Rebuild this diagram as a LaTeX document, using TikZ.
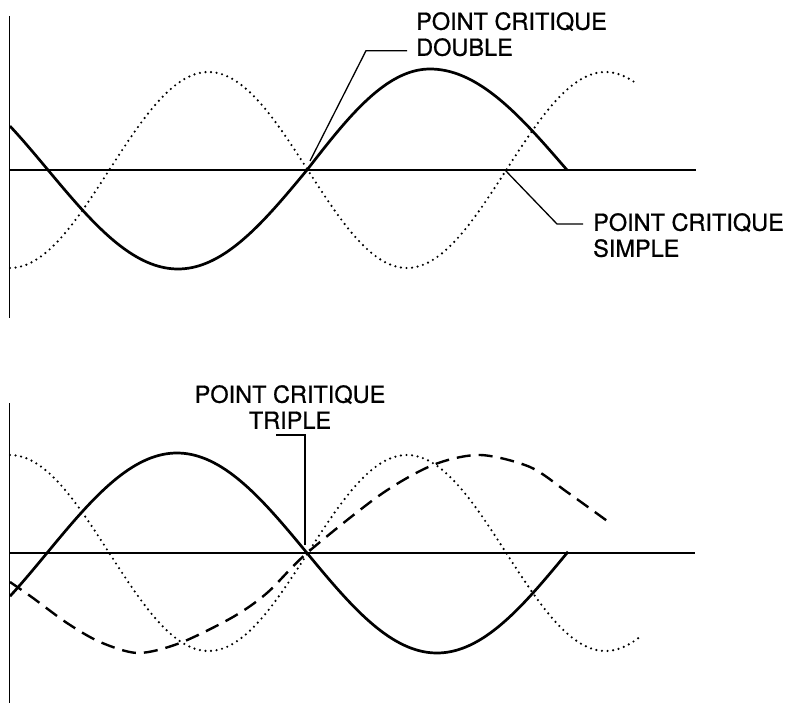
\documentclass[tikz,border=0pt]{standalone}
\usepackage{fontspec}
\setmainfont{TeX Gyre Heros}
\newfontfamily\lblfont{TeX Gyre Heros}[FakeBold=0.8]
\begin{document}
\begin{tikzpicture}[x=1pt,y=-1pt,
  axis/.style={line width=1.4pt},
  solidc/.style={line width=2.7pt, line join=round},
  dotc/.style={line width=2.4pt, line cap=round, dash pattern=on 0pt off 5.6pt},
  dashc/.style={line width=2.4pt, dash pattern=on 14pt off 8pt},
  leader/.style={line width=1.3pt},
  lbl/.style={font=\lblfont\fontsize{23.5}{26}\selectfont, inner sep=0pt}]
\useasboundingbox (0,0) rectangle (790,703);
% ---------- top panel ----------
\draw[axis] (9.5,16) -- (9.5,318);
\draw[axis] (9.5,170) -- (696,170);
\draw[dotc] plot[domain=10:637, samples=140, smooth] (\x, {170+98*cos(0.9068*(\x-10))});
\draw[solidc] plot[domain=10:178, samples=50, smooth] (\x, {170+99*sin(0.6923*(\x-48))})
  -- plot[domain=178:307, samples=40, smooth] (\x, {170+99*sin(90+0.6977*(\x-178))})
  -- plot[domain=307:430, samples=40, smooth] (\x, {170+101*sin(180+0.7317*(\x-307))})
  -- plot[domain=430:567, samples=40, smooth] (\x, {170+101*sin(270+0.6569*(\x-430))});
\node[lbl, anchor=north west, align=left] (lD) at (416,12) {POINT CRITIQUE\\DOUBLE};
\node[lbl, anchor=north west, align=left] (lS) at (593,213) {POINT CRITIQUE\\SIMPLE};
\coordinate (cD) at (310,161);
\coordinate (kD) at (366,50.7);
\coordinate (eD) at (407,50.7);
\draw[leader] (cD) -- (kD) -- (eD);
\coordinate (cS) at (505,170);
\coordinate (kS) at (557,224);
\coordinate (eS) at (583,224);
\draw[leader] (cS) -- (kS) -- (eS);
% ---------- bottom panel ----------
\draw[axis] (9.5,403) -- (9.5,703);
\draw[axis] (9.5,553) -- (695,553);
\draw[dotc] plot[domain=10:639, samples=140, smooth] (\x, {553-98*cos(0.9068*(\x-10))});
\draw[solidc] plot[domain=10:568, samples=120, smooth] (\x, {553-100*sin(0.6923*(\x-47))});
\draw[dashc] plot[smooth] coordinates {(10,582) (33,598) (67,623) (100,642) (138,653) (180,643) (233,617) (267,593) (307,553) (380,495) (433,465) (480,455) (530,467) (567,492) (610,523)};
\node[lbl, anchor=north, align=center] (lT) at (290,385) {POINT CRITIQUE\\TRIPLE};
\coordinate (cT) at (305,545);
\coordinate (kT) at (305,435);
\coordinate (eT) at (276,435);
\draw[leader] (cT) -- (kT) -- (eT);
\end{tikzpicture}
\end{document}
